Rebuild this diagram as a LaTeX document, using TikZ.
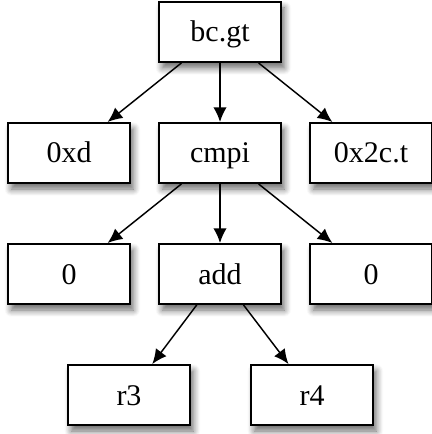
\documentclass[tikz,border=0pt]{standalone}
\usepackage{fontspec}
\setmainfont{Liberation Serif}
\usepackage{tikz}
\usetikzlibrary{arrows.meta,shadows.blur}
\tikzstyle{box} = [rectangle, draw, line width=1.5pt, fill=white, minimum width=91.5pt, minimum height=45pt, text height=20pt, text depth=5pt, font=\fontsize{22.5}{26}\selectfont, blur shadow={shadow xshift=2.5pt, shadow yshift=-4.5pt, shadow blur steps=8, shadow blur radius=5pt, shadow opacity=60}]
\tikzstyle{edge} = [-{Latex[length=11pt,width=10pt]}, line width=1.1pt]

\begin{document}
\begin{tikzpicture}[x=0.75pt, y=-0.75pt]
    \useasboundingbox (0,0) rectangle (431,434);
    \node [box] (bcgt) at (220,32) {bc.gt};
    \node [box] (xd) at (69,153) {0xd};
    \node [box] (cmpi) at (220,153) {cmpi};
    \node [box] (xtc) at (371,153) {0x2c.t};
    \node [box] (zeroa) at (69,274) {0};
    \node [box] (add) at (220,274) {add};
    \node [box] (zerob) at (371,274) {0};
    \node [box] (rthree) at (129,395) {r3};
    \node [box] (rfour) at (312,395) {r4};

    % branch -> target, compare, fallthrough
    \draw [edge] (bcgt) to (xd);
    \draw [edge] (bcgt) to (cmpi);
    \draw [edge] (bcgt) to (xtc);
    % compare operands
    \draw [edge] (cmpi) to (zeroa);
    \draw [edge] (cmpi) to (add);
    \draw [edge] (cmpi) to (zerob);
    % add operands
    \draw [edge] (add) to (rthree);
    \draw [edge] (add) to (rfour);
\end{tikzpicture}
\end{document}
